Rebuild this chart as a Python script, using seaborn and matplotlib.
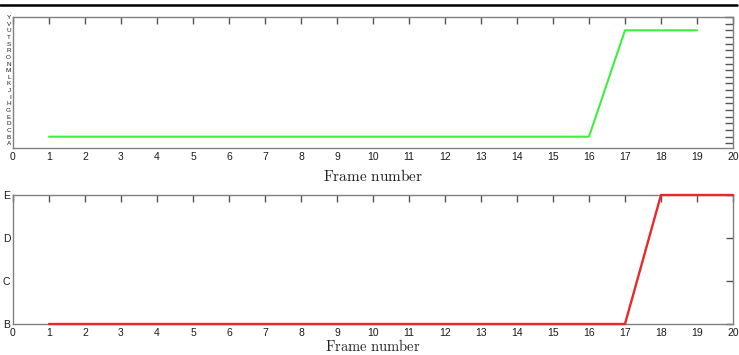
import matplotlib
matplotlib.use("Agg")
import matplotlib.pyplot as plt
import seaborn as sns
import pandas as pd
from matplotlib.lines import Line2D

# ---- data ----
top_letters = ['A', 'B', 'C', 'D', 'E', 'G', 'H', 'I', 'J', 'K',
               'L', 'M', 'N', 'O', 'R', 'S', 'T', 'U', 'V', 'Y']
top_frames = list(range(1, 20))
top_values = ['B'] * 16 + ['U'] * 3

bot_letters = ['B', 'C', 'D', 'E']
bot_frames = list(range(1, 21))
bot_values = ['B'] * 17 + ['E'] * 3

x_ticks = list(range(0, 21))
x_label = 'Frame number'

sns.set_style('white')
plt.rcParams['font.family'] = ['Liberation Sans', 'DejaVu Sans']
plt.rcParams['mathtext.fontset'] = 'cm'

fig = plt.figure(figsize=(7.39, 3.55), dpi=100)
W, H = 739, 355

def axes_px(x0, y0, x1, y1):
    return fig.add_axes([x0 / W, 1 - y1 / H, (x1 - x0) / W, (y1 - y0) / H])

ax1 = axes_px(13, 17, 733, 148)
ax2 = axes_px(13, 195, 733, 324)

df1 = pd.DataFrame({'frame': top_frames,
                    'level': [top_letters.index(v) for v in top_values]})
df2 = pd.DataFrame({'frame': bot_frames,
                    'level': [bot_letters.index(v) for v in bot_values]})

sns.lineplot(data=df1, x='frame', y='level', ax=ax1, color='#3ef03e', linewidth=1.5)
sns.lineplot(data=df2, x='frame', y='level', ax=ax2, color='#e8282a', linewidth=1.7)
for ln in ax2.get_lines():
    ln.set_clip_on(False)
    ln.set_zorder(5)

spine_c = '#808080'
for ax in (ax1, ax2):
    ax.set_xlim(0, 20)
    ax.set_xticks(x_ticks)
    ax.set_xticklabels([str(t) for t in x_ticks], fontsize=7.5, color='#1a1a1a')
    ax.tick_params(axis='both', direction='in', top=True, right=True,
                   length=5, width=1.0, color='#555555', pad=3)
    ax.tick_params(axis='y', labelsize=7.5, pad=2)
    for s in ax.spines.values():
        s.set_color(spine_c)
        s.set_linewidth(1.0)
        s.set_visible(True)
    ax.set_ylabel('')

ax1.set_xlabel(r'$\mathrm{Frame\ number}$', fontsize=11, labelpad=4, color='#222222')
ax2.set_xlabel(r'$\mathrm{Frame\ number}$', fontsize=10.5, labelpad=0, color='#222222')

ax1.set_ylim(-0.7, 19)
ax1.set_yticks(range(len(top_letters)))
ax1.set_yticklabels(top_letters, fontsize=4.6, color='#1a1a1a')
ax1.tick_params(axis='y', pad=1.5, length=6)

ax2.set_ylim(0, 3)
ax2.set_yticks(range(len(bot_letters)))
ax2.set_yticklabels(bot_letters, fontsize=7.5, color='#1a1a1a')

fig.add_artist(Line2D([0, 737 / W], [1 - 5 / H, 1 - 5 / H], color='black',
                      linewidth=1.8, transform=fig.transFigure))

fig.savefig('out.png', dpi=100)
